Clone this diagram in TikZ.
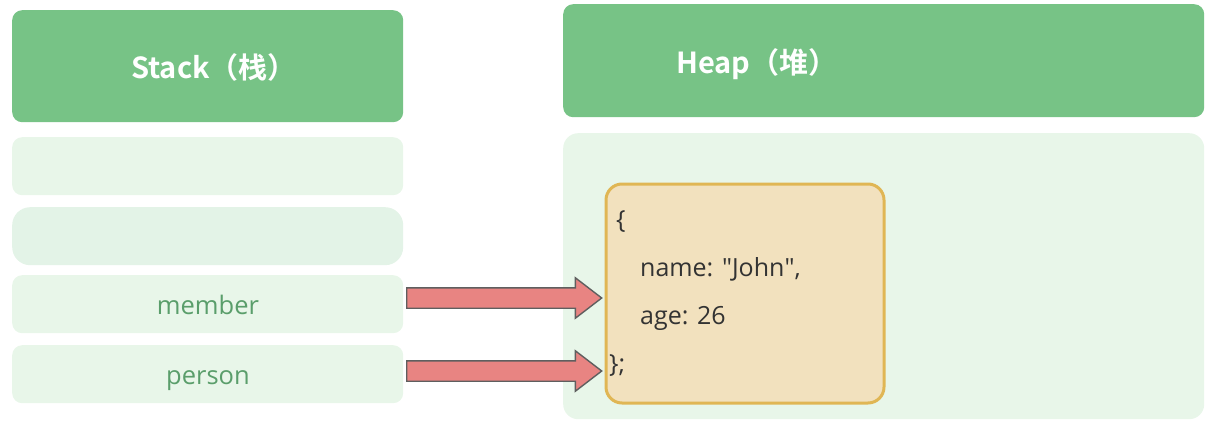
\documentclass[tikz,border=0pt]{standalone}
\usepackage{fontspec}
\setmainfont{Open Sans}
\newfontfamily\codefont{Open Sans}
\newfontfamily\cjkb[BoldFont={Noto Sans CJK SC Bold}]{Noto Sans CJK SC}
\usetikzlibrary{shapes.arrows}
\definecolor{headgreen}{HTML}{77C386}
\definecolor{lightfill}{HTML}{E8F6E9}
\definecolor{lightfillb}{HTML}{E3F3E7}
\definecolor{objfill}{HTML}{F2E1BE}
\definecolor{objline}{HTML}{E0B654}
\definecolor{arrfill}{HTML}{E88482}
\definecolor{arrline}{HTML}{5F5F5F}
\definecolor{labgreen}{HTML}{5A9E6B}
\definecolor{codetext}{HTML}{333333}
\tikzset{
  headbox/.style={fill=headgreen, rounded corners=10pt, inner sep=0pt, anchor=north west},
  rowbox/.style={fill=lightfill, rounded corners=10pt, inner sep=0pt, anchor=north west, minimum width=391pt, minimum height=58pt},
  headtext/.style={text=white, font=\cjkb\bfseries\fontsize{29}{31}\selectfont, inner sep=0pt, anchor=base},
  labtext/.style={text=labgreen, font=\fontsize{25.5}{28}\selectfont, inner sep=0pt, anchor=base},
  codeline/.style={text=codetext, font=\codefont\fontsize{25}{27}\selectfont, inner sep=0pt, anchor=base west},
  bigarrow/.style={shape=single arrow, fill=arrfill, draw=arrline, line width=1.4pt, inner xsep=0pt, inner ysep=9.5pt,
    single arrow head extend=10pt, single arrow tip angle=75, anchor=tail, minimum height=195pt}
}
\begin{document}
\begin{tikzpicture}[x=1pt,y=-1pt]
\useasboundingbox (0,0) rectangle (1220,423);
% Stack column
\node[headbox, minimum width=391pt, minimum height=112pt] (stackh) at (12,10) {};
\node[headtext] (stackt) at (214,78) {Stack（栈）};
\node[rowbox] (row1) at (12,137) {};
\node[rowbox, fill=lightfillb, rounded corners=18pt] (row2) at (12,207) {};
\node[rowbox] (member) at (12,275) {};
\node[rowbox] (person) at (12,345) {};
\node[labtext] (membert) at (208,314) {member};
\node[labtext] (persont) at (208,384) {person};
% Heap column
\node[headbox, minimum width=641pt, minimum height=113pt] (heaph) at (563,4) {};
\node[headtext] (heapt) at (757,73) {Heap（堆）};
\node[fill=lightfill, rounded corners=15pt, inner sep=0pt, anchor=north west, minimum width=641pt, minimum height=286pt] (heapb) at (563,133) {};
\node[fill=objfill, draw=objline, line width=3pt, rounded corners=16pt, inner sep=0pt, anchor=north west, minimum width=278pt, minimum height=219pt] (obj) at (604.5,182.5) {};
\node[codeline] (c1) at (616,228) {\{};
\node[codeline] (c2) at (640,276) {name: \textquotedbl John\textquotedbl ,};
\node[codeline] (c3) at (640,324) {age: 26};
\node[codeline] (c4) at (609,372) {\};};
% Arrows
\node[bigarrow] (a1) at (406,298) {};
\node[bigarrow] (a2) at (406,371) {};
\end{tikzpicture}
\end{document}
